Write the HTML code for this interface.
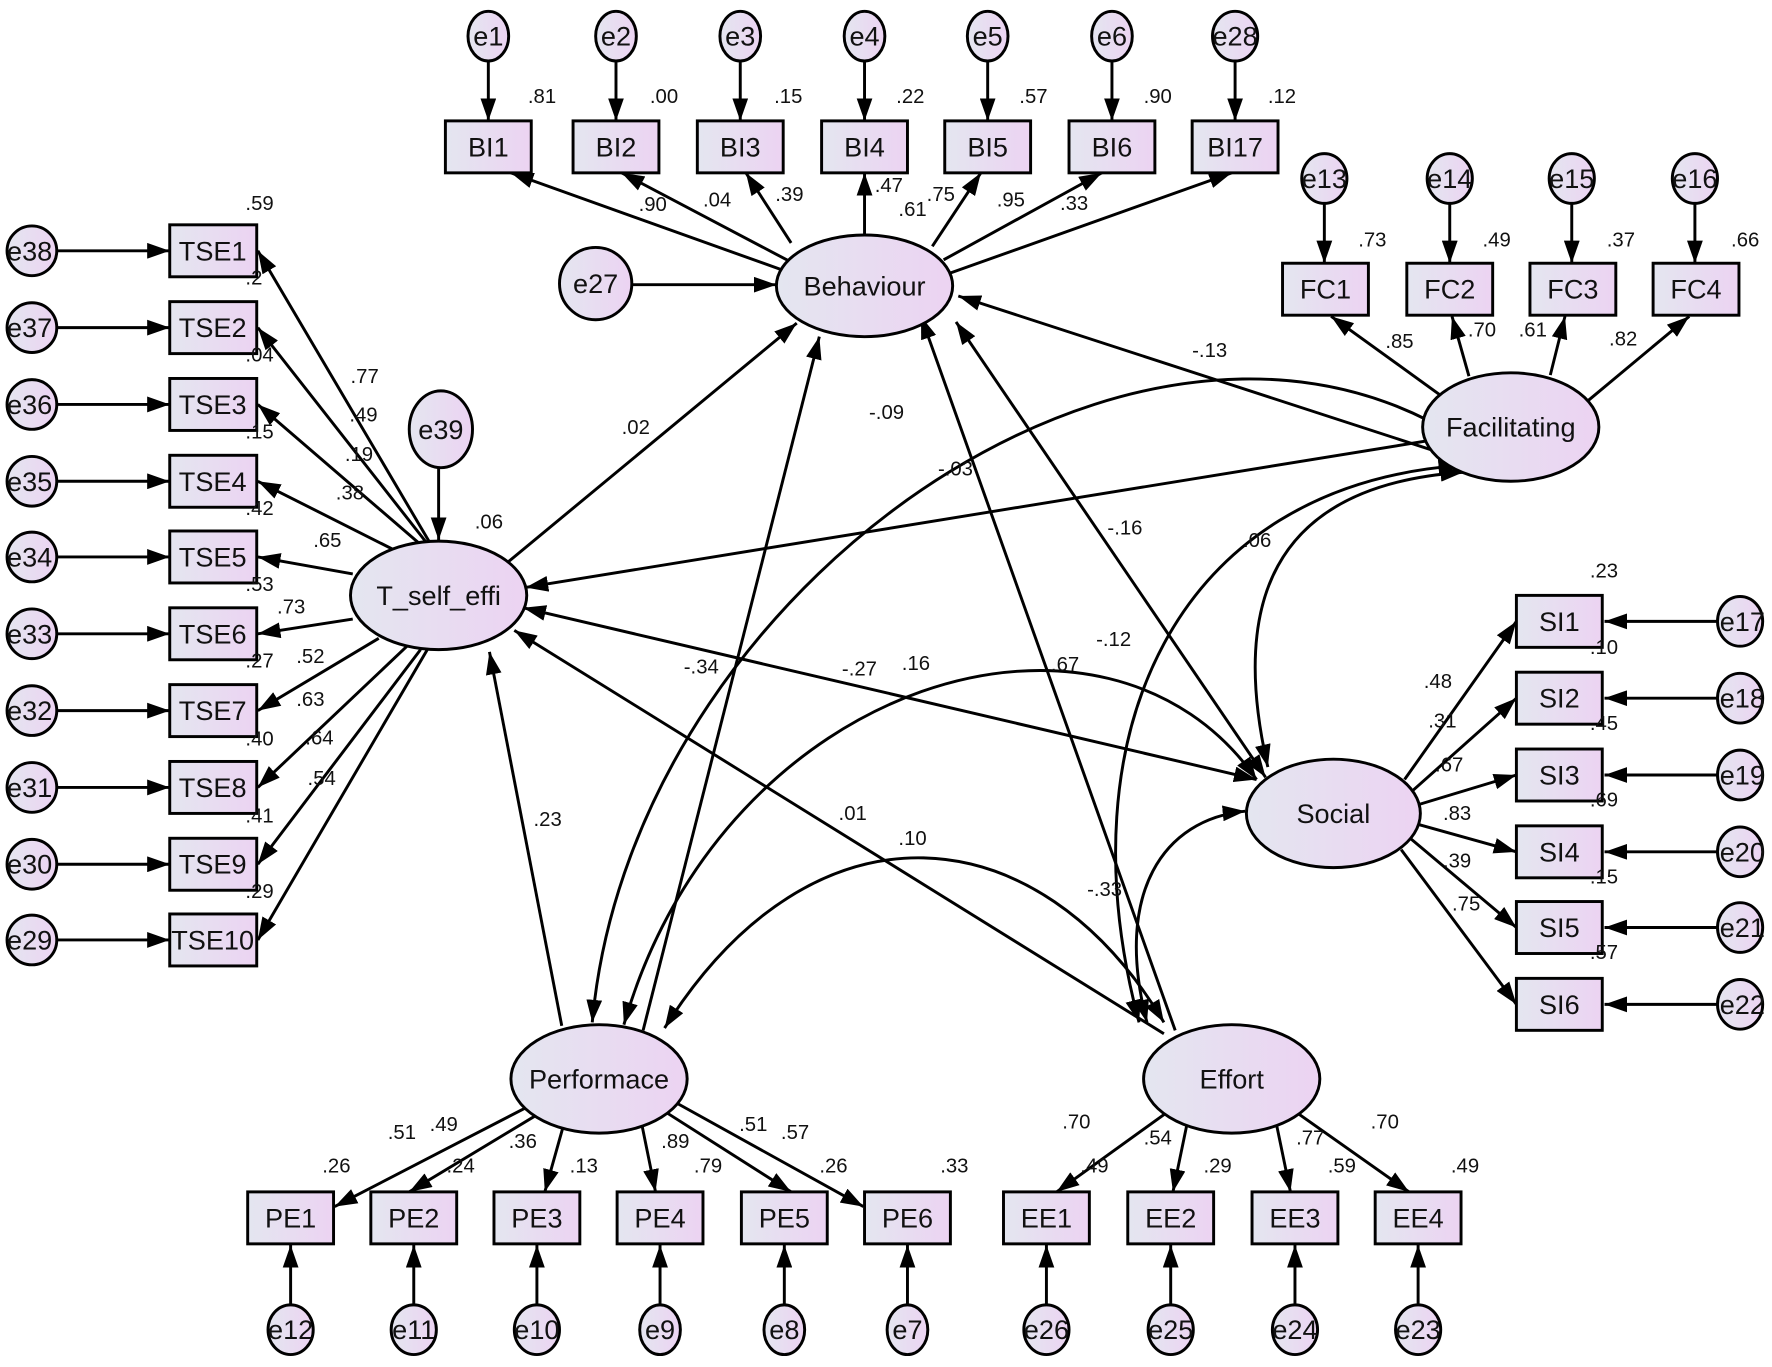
<!DOCTYPE html>
<html><head><meta charset="utf-8"><style>
html,body{margin:0;padding:0;background:#fff;}
svg{display:block;}
text{font-family:"Liberation Sans",Arial,sans-serif;fill:#111;}
.n{font-size:24px;text-anchor:middle;dominant-baseline:central;}
.l{font-size:18px;}
.ln{stroke:#000;stroke-width:2.6;fill:none;}
.bx{fill:url(#g);stroke:#000;stroke-width:2.6;}
</style></head><body>
<svg width="1772" height="1367" viewBox="0 0 1568 1210" xmlns="http://www.w3.org/2000/svg">
<defs>
<linearGradient id="g" x1="0" y1="0" x2="1" y2="0"><stop offset="0" stop-color="#e4e6f0"/><stop offset="1" stop-color="#ecd3f2"/></linearGradient>
<marker id="a" viewBox="0 0 20 14" refX="20" refY="7" markerWidth="20" markerHeight="14" markerUnits="userSpaceOnUse" orient="auto-start-reverse"><path d="M0,0 L20,7 L0,14 z" fill="#000"/></marker>
</defs>

<!-- Structural lines -->
<g class="ln">
<line x1="450" y1="497" x2="705" y2="286" marker-end="url(#a)"/>
<line x1="569" y1="912" x2="725" y2="298" marker-end="url(#a)"/>
<line x1="1040" y1="912" x2="815" y2="280" marker-end="url(#a)"/>
<line x1="848" y1="262" x2="1340" y2="422" marker-start="url(#a)" marker-end="url(#a)"/>
<line x1="1295" y1="385" x2="465" y2="520" marker-end="url(#a)"/>
<line x1="846" y1="285" x2="1120" y2="688" marker-start="url(#a)" marker-end="url(#a)"/>
<line x1="463" y1="538" x2="1112" y2="690" marker-start="url(#a)" marker-end="url(#a)"/>
<line x1="1030" y1="915" x2="455" y2="558" marker-end="url(#a)"/>
<line x1="497" y1="908" x2="433" y2="577" marker-end="url(#a)"/>
<path d="M524,905 C560,500 1060,170 1340,425" marker-start="url(#a)" marker-end="url(#a)"/>
<path d="M1122,679 C1090,540 1120,430 1295,418" marker-start="url(#a)" marker-end="url(#a)"/>
<path d="M552,907 C640,600 980,500 1112,690" marker-start="url(#a)" marker-end="url(#a)"/>
<path d="M1008,905 C940,650 1040,430 1293,412" marker-start="url(#a)" marker-end="url(#a)"/>
<path d="M1015,905 C985,790 1030,725 1102,718" marker-start="url(#a)" marker-end="url(#a)"/>
<path d="M588,910 C720,700 920,720 1030,905" marker-start="url(#a)" marker-end="url(#a)"/>
</g>

<!-- BI block -->
<g class="ln">
<line x1="432" y1="54" x2="432" y2="107" marker-end="url(#a)"/>
<line x1="545" y1="54" x2="545" y2="107" marker-end="url(#a)"/>
<line x1="655" y1="54" x2="655" y2="107" marker-end="url(#a)"/>
<line x1="765" y1="54" x2="765" y2="107" marker-end="url(#a)"/>
<line x1="874" y1="54" x2="874" y2="107" marker-end="url(#a)"/>
<line x1="984" y1="54" x2="984" y2="107" marker-end="url(#a)"/>
<line x1="1093" y1="54" x2="1093" y2="107" marker-end="url(#a)"/>
<line x1="695" y1="240" x2="452" y2="153" marker-end="url(#a)"/>
<line x1="700" y1="232" x2="550" y2="153" marker-end="url(#a)"/>
<line x1="700" y1="215" x2="660" y2="153" marker-end="url(#a)"/>
<line x1="765" y1="208" x2="765" y2="153" marker-end="url(#a)"/>
<line x1="825" y1="218" x2="868" y2="153" marker-end="url(#a)"/>
<line x1="835" y1="230" x2="975" y2="153" marker-end="url(#a)"/>
<line x1="840" y1="242" x2="1090" y2="153" marker-end="url(#a)"/>
<line x1="559" y1="252" x2="687" y2="252" marker-end="url(#a)"/>
</g>
<g>
<ellipse cx="432" cy="32" rx="18" ry="22" class="bx"/><text x="432" y="32" class="n">e1</text>
<ellipse cx="545" cy="32" rx="18" ry="22" class="bx"/><text x="545" y="32" class="n">e2</text>
<ellipse cx="655" cy="32" rx="18" ry="22" class="bx"/><text x="655" y="32" class="n">e3</text>
<ellipse cx="765" cy="32" rx="18" ry="22" class="bx"/><text x="765" y="32" class="n">e4</text>
<ellipse cx="874" cy="32" rx="18" ry="22" class="bx"/><text x="874" y="32" class="n">e5</text>
<ellipse cx="984" cy="32" rx="18" ry="22" class="bx"/><text x="984" y="32" class="n">e6</text>
<ellipse cx="1093" cy="32" rx="20" ry="22" class="bx"/><text x="1093" y="32" class="n">e28</text>
<rect x="394" y="107" width="76" height="46" class="bx"/><text x="432" y="130" class="n">BI1</text>
<rect x="507" y="107" width="76" height="46" class="bx"/><text x="545" y="130" class="n">BI2</text>
<rect x="617" y="107" width="76" height="46" class="bx"/><text x="655" y="130" class="n">BI3</text>
<rect x="727" y="107" width="76" height="46" class="bx"/><text x="765" y="130" class="n">BI4</text>
<rect x="836" y="107" width="76" height="46" class="bx"/><text x="874" y="130" class="n">BI5</text>
<rect x="946" y="107" width="76" height="46" class="bx"/><text x="984" y="130" class="n">BI6</text>
<rect x="1055" y="107" width="76" height="46" class="bx"/><text x="1093" y="130" class="n">BI17</text>
<ellipse cx="527" cy="251" rx="32" ry="32" class="bx"/><text x="527" y="251" class="n">e27</text>
<ellipse cx="765" cy="253" rx="78" ry="45" class="bx"/><text x="765" y="253" class="n">Behaviour</text>
</g>
<g class="l">
<text x="467" y="91">.81</text><text x="575" y="91">.00</text><text x="685" y="91">.15</text><text x="793" y="91">.22</text><text x="902" y="91">.57</text><text x="1012" y="91">.90</text><text x="1122" y="91">.12</text>
<text x="565" y="187">.90</text><text x="622" y="183">.04</text><text x="686" y="178">.39</text><text x="774" y="170">.47</text><text x="820" y="178">.75</text><text x="795" y="191">.61</text><text x="882" y="183">.95</text><text x="938" y="186">.33</text>
</g>

<!-- TSE block -->
<g class="ln">
<line x1="50" y1="222" x2="150" y2="222" marker-end="url(#a)"/>
<line x1="50" y1="290" x2="150" y2="290" marker-end="url(#a)"/>
<line x1="50" y1="358" x2="150" y2="358" marker-end="url(#a)"/>
<line x1="50" y1="426" x2="150" y2="426" marker-end="url(#a)"/>
<line x1="50" y1="493" x2="150" y2="493" marker-end="url(#a)"/>
<line x1="50" y1="561" x2="150" y2="561" marker-end="url(#a)"/>
<line x1="50" y1="629" x2="150" y2="629" marker-end="url(#a)"/>
<line x1="50" y1="697" x2="150" y2="697" marker-end="url(#a)"/>
<line x1="50" y1="765" x2="150" y2="765" marker-end="url(#a)"/>
<line x1="50" y1="832" x2="150" y2="832" marker-end="url(#a)"/>
<line x1="380" y1="480" x2="228" y2="222" marker-end="url(#a)"/>
<line x1="377" y1="480" x2="228" y2="290" marker-end="url(#a)"/>
<line x1="372" y1="482" x2="228" y2="358" marker-end="url(#a)"/>
<line x1="355" y1="490" x2="228" y2="426" marker-end="url(#a)"/>
<line x1="312" y1="508" x2="228" y2="493" marker-end="url(#a)"/>
<line x1="312" y1="548" x2="228" y2="561" marker-end="url(#a)"/>
<line x1="335" y1="565" x2="228" y2="629" marker-end="url(#a)"/>
<line x1="360" y1="572" x2="228" y2="697" marker-end="url(#a)"/>
<line x1="372" y1="575" x2="228" y2="765" marker-end="url(#a)"/>
<line x1="378" y1="575" x2="228" y2="832" marker-end="url(#a)"/>
<line x1="388" y1="414" x2="388" y2="478" marker-end="url(#a)"/>
</g>
<g>
<ellipse cx="28" cy="222" rx="22" ry="22" class="bx"/><text x="26" y="222" class="n">e38</text>
<ellipse cx="28" cy="290" rx="22" ry="22" class="bx"/><text x="26" y="290" class="n">e37</text>
<ellipse cx="28" cy="358" rx="22" ry="22" class="bx"/><text x="26" y="358" class="n">e36</text>
<ellipse cx="28" cy="426" rx="22" ry="22" class="bx"/><text x="26" y="426" class="n">e35</text>
<ellipse cx="28" cy="493" rx="22" ry="22" class="bx"/><text x="26" y="493" class="n">e34</text>
<ellipse cx="28" cy="561" rx="22" ry="22" class="bx"/><text x="26" y="561" class="n">e33</text>
<ellipse cx="28" cy="629" rx="22" ry="22" class="bx"/><text x="26" y="629" class="n">e32</text>
<ellipse cx="28" cy="697" rx="22" ry="22" class="bx"/><text x="26" y="697" class="n">e31</text>
<ellipse cx="28" cy="765" rx="22" ry="22" class="bx"/><text x="26" y="765" class="n">e30</text>
<ellipse cx="28" cy="832" rx="22" ry="22" class="bx"/><text x="26" y="832" class="n">e29</text>
<rect x="150" y="199" width="77" height="46" class="bx"/><text x="188" y="222" class="n">TSE1</text>
<rect x="150" y="267" width="77" height="46" class="bx"/><text x="188" y="290" class="n">TSE2</text>
<rect x="150" y="335" width="77" height="46" class="bx"/><text x="188" y="358" class="n">TSE3</text>
<rect x="150" y="403" width="77" height="46" class="bx"/><text x="188" y="426" class="n">TSE4</text>
<rect x="150" y="470" width="77" height="46" class="bx"/><text x="188" y="493" class="n">TSE5</text>
<rect x="150" y="538" width="77" height="46" class="bx"/><text x="188" y="561" class="n">TSE6</text>
<rect x="150" y="606" width="77" height="46" class="bx"/><text x="188" y="629" class="n">TSE7</text>
<rect x="150" y="674" width="77" height="46" class="bx"/><text x="188" y="697" class="n">TSE8</text>
<rect x="150" y="742" width="77" height="46" class="bx"/><text x="188" y="765" class="n">TSE9</text>
<rect x="150" y="809" width="77" height="46" class="bx"/><text x="188" y="832" class="n">TSE10</text>
<ellipse cx="390" cy="380" rx="28" ry="34" class="bx"/><text x="390" y="380" class="n">e39</text>
<ellipse cx="388" cy="527" rx="78" ry="48" class="bx"/><text x="388" y="527" class="n">T_self_effi</text>
</g>
<g class="l">
<text x="217" y="186">.59</text><text x="217" y="252">.2</text><text x="217" y="320">.04</text><text x="217" y="388">.15</text><text x="217" y="456">.42</text><text x="217" y="523">.53</text><text x="217" y="591">.27</text><text x="217" y="660">.40</text><text x="217" y="728">.41</text><text x="217" y="795">.29</text>
<text x="310" y="339">.77</text><text x="309" y="373">.49</text><text x="305" y="408">.19</text><text x="297" y="442">.38</text><text x="277" y="484">.65</text><text x="245" y="543">.73</text><text x="262" y="587">.52</text><text x="262" y="625">.63</text><text x="270" y="659">.64</text><text x="272" y="695">.54</text>
<text x="420" y="468">.06</text>
</g>

<!-- FC block -->
<g class="ln">
<line x1="1172" y1="180" x2="1172" y2="233" marker-end="url(#a)"/>
<line x1="1283" y1="180" x2="1283" y2="233" marker-end="url(#a)"/>
<line x1="1391" y1="180" x2="1391" y2="233" marker-end="url(#a)"/>
<line x1="1500" y1="180" x2="1500" y2="233" marker-end="url(#a)"/>
<line x1="1275" y1="350" x2="1178" y2="280" marker-end="url(#a)"/>
<line x1="1300" y1="333" x2="1285" y2="280" marker-end="url(#a)"/>
<line x1="1372" y1="332" x2="1385" y2="280" marker-end="url(#a)"/>
<line x1="1405" y1="355" x2="1495" y2="280" marker-end="url(#a)"/>
</g>
<g>
<ellipse cx="1172" cy="158" rx="20" ry="22" class="bx"/><text x="1172" y="158" class="n">e13</text>
<ellipse cx="1283" cy="158" rx="20" ry="22" class="bx"/><text x="1283" y="158" class="n">e14</text>
<ellipse cx="1391" cy="158" rx="20" ry="22" class="bx"/><text x="1391" y="158" class="n">e15</text>
<ellipse cx="1500" cy="158" rx="20" ry="22" class="bx"/><text x="1500" y="158" class="n">e16</text>
<rect x="1135" y="233" width="76" height="46" class="bx"/><text x="1173" y="256" class="n">FC1</text>
<rect x="1245" y="233" width="76" height="46" class="bx"/><text x="1283" y="256" class="n">FC2</text>
<rect x="1354" y="233" width="76" height="46" class="bx"/><text x="1392" y="256" class="n">FC3</text>
<rect x="1463" y="233" width="76" height="46" class="bx"/><text x="1501" y="256" class="n">FC4</text>
<ellipse cx="1337" cy="378" rx="78" ry="48" class="bx"/><text x="1337" y="378" class="n">Facilitating</text>
</g>
<g class="l">
<text x="1202" y="218">.73</text><text x="1312" y="218">.49</text><text x="1422" y="218">.37</text><text x="1532" y="218">.66</text>
<text x="1226" y="308">.85</text><text x="1299" y="298">.70</text><text x="1344" y="298">.61</text><text x="1424" y="306">.82</text>
</g>

<!-- SI block -->
<g class="ln">
<line x1="1520" y1="550" x2="1420" y2="550" marker-end="url(#a)"/>
<line x1="1520" y1="618" x2="1420" y2="618" marker-end="url(#a)"/>
<line x1="1520" y1="686" x2="1420" y2="686" marker-end="url(#a)"/>
<line x1="1520" y1="754" x2="1420" y2="754" marker-end="url(#a)"/>
<line x1="1520" y1="821" x2="1420" y2="821" marker-end="url(#a)"/>
<line x1="1520" y1="889" x2="1420" y2="889" marker-end="url(#a)"/>
<line x1="1243" y1="690" x2="1342" y2="550" marker-end="url(#a)"/>
<line x1="1250" y1="700" x2="1342" y2="618" marker-end="url(#a)"/>
<line x1="1256" y1="712" x2="1342" y2="686" marker-end="url(#a)"/>
<line x1="1256" y1="730" x2="1342" y2="754" marker-end="url(#a)"/>
<line x1="1248" y1="742" x2="1342" y2="821" marker-end="url(#a)"/>
<line x1="1240" y1="752" x2="1342" y2="889" marker-end="url(#a)"/>
</g>
<g>
<ellipse cx="1540" cy="550" rx="20" ry="22" class="bx"/><text x="1542" y="550" class="n">e17</text>
<ellipse cx="1540" cy="618" rx="20" ry="22" class="bx"/><text x="1542" y="618" class="n">e18</text>
<ellipse cx="1540" cy="686" rx="20" ry="22" class="bx"/><text x="1542" y="686" class="n">e19</text>
<ellipse cx="1540" cy="754" rx="20" ry="22" class="bx"/><text x="1542" y="754" class="n">e20</text>
<ellipse cx="1540" cy="821" rx="20" ry="22" class="bx"/><text x="1542" y="821" class="n">e21</text>
<ellipse cx="1540" cy="889" rx="20" ry="22" class="bx"/><text x="1542" y="889" class="n">e22</text>
<rect x="1342" y="527" width="76" height="46" class="bx"/><text x="1380" y="550" class="n">SI1</text>
<rect x="1342" y="595" width="76" height="46" class="bx"/><text x="1380" y="618" class="n">SI2</text>
<rect x="1342" y="663" width="76" height="46" class="bx"/><text x="1380" y="686" class="n">SI3</text>
<rect x="1342" y="731" width="76" height="46" class="bx"/><text x="1380" y="754" class="n">SI4</text>
<rect x="1342" y="798" width="76" height="46" class="bx"/><text x="1380" y="821" class="n">SI5</text>
<rect x="1342" y="866" width="76" height="46" class="bx"/><text x="1380" y="889" class="n">SI6</text>
<ellipse cx="1180" cy="720" rx="77" ry="48" class="bx"/><text x="1180" y="720" class="n">Social</text>
</g>
<g class="l">
<text x="1407" y="511">.23</text><text x="1407" y="579">.10</text><text x="1407" y="646">.45</text><text x="1407" y="714">.69</text><text x="1407" y="782">.15</text><text x="1407" y="849">.57</text>
<text x="1260" y="609">.48</text><text x="1264" y="644">.31</text><text x="1270" y="683">.67</text><text x="1277" y="726">.83</text><text x="1277" y="768">.39</text><text x="1285" y="806">.75</text>
</g>

<!-- PE block -->
<g class="ln">
<line x1="257" y1="1155" x2="257" y2="1102" marker-end="url(#a)"/>
<line x1="366" y1="1155" x2="366" y2="1102" marker-end="url(#a)"/>
<line x1="475" y1="1155" x2="475" y2="1102" marker-end="url(#a)"/>
<line x1="584" y1="1155" x2="584" y2="1102" marker-end="url(#a)"/>
<line x1="694" y1="1155" x2="694" y2="1102" marker-end="url(#a)"/>
<line x1="803" y1="1155" x2="803" y2="1102" marker-end="url(#a)"/>
<line x1="470" y1="978" x2="296" y2="1068" marker-end="url(#a)"/>
<line x1="478" y1="985" x2="362" y2="1055" marker-end="url(#a)"/>
<line x1="498" y1="998" x2="482" y2="1055" marker-end="url(#a)"/>
<line x1="568" y1="996" x2="580" y2="1055" marker-end="url(#a)"/>
<line x1="590" y1="985" x2="700" y2="1055" marker-end="url(#a)"/>
<line x1="598" y1="976" x2="764" y2="1068" marker-end="url(#a)"/>
</g>
<g>
<ellipse cx="257" cy="1177" rx="20" ry="22" class="bx"/><text x="257" y="1177" class="n">e12</text>
<ellipse cx="366" cy="1177" rx="20" ry="22" class="bx"/><text x="366" y="1177" class="n">e11</text>
<ellipse cx="475" cy="1177" rx="20" ry="22" class="bx"/><text x="475" y="1177" class="n">e10</text>
<ellipse cx="584" cy="1177" rx="18" ry="22" class="bx"/><text x="584" y="1177" class="n">e9</text>
<ellipse cx="694" cy="1177" rx="18" ry="22" class="bx"/><text x="694" y="1177" class="n">e8</text>
<ellipse cx="803" cy="1177" rx="18" ry="22" class="bx"/><text x="803" y="1177" class="n">e7</text>
<rect x="219" y="1055" width="76" height="46" class="bx"/><text x="257" y="1078" class="n">PE1</text>
<rect x="328" y="1055" width="76" height="46" class="bx"/><text x="366" y="1078" class="n">PE2</text>
<rect x="437" y="1055" width="76" height="46" class="bx"/><text x="475" y="1078" class="n">PE3</text>
<rect x="546" y="1055" width="76" height="46" class="bx"/><text x="584" y="1078" class="n">PE4</text>
<rect x="656" y="1055" width="76" height="46" class="bx"/><text x="694" y="1078" class="n">PE5</text>
<rect x="765" y="1055" width="76" height="46" class="bx"/><text x="803" y="1078" class="n">PE6</text>
<ellipse cx="530" cy="955" rx="78" ry="48" class="bx"/><text x="530" y="955" class="n">Performace</text>
</g>
<g class="l">
<text x="285" y="1038">.26</text><text x="395" y="1038">.24</text><text x="504" y="1038">.13</text><text x="614" y="1038">.79</text><text x="725" y="1038">.26</text><text x="832" y="1038">.33</text>
<text x="343" y="1008">.51</text><text x="380" y="1001">.49</text><text x="450" y="1016">.36</text><text x="585" y="1016">.89</text><text x="654" y="1001">.51</text><text x="691" y="1008">.57</text>
</g>

<!-- EE block -->
<g class="ln">
<line x1="926" y1="1155" x2="926" y2="1102" marker-end="url(#a)"/>
<line x1="1036" y1="1155" x2="1036" y2="1102" marker-end="url(#a)"/>
<line x1="1146" y1="1155" x2="1146" y2="1102" marker-end="url(#a)"/>
<line x1="1255" y1="1155" x2="1255" y2="1102" marker-end="url(#a)"/>
<line x1="1035" y1="983" x2="935" y2="1055" marker-end="url(#a)"/>
<line x1="1050" y1="997" x2="1038" y2="1055" marker-end="url(#a)"/>
<line x1="1130" y1="997" x2="1142" y2="1055" marker-end="url(#a)"/>
<line x1="1145" y1="983" x2="1247" y2="1055" marker-end="url(#a)"/>
</g>
<g>
<ellipse cx="926" cy="1177" rx="20" ry="22" class="bx"/><text x="926" y="1177" class="n">e26</text>
<ellipse cx="1036" cy="1177" rx="20" ry="22" class="bx"/><text x="1036" y="1177" class="n">e25</text>
<ellipse cx="1146" cy="1177" rx="20" ry="22" class="bx"/><text x="1146" y="1177" class="n">e24</text>
<ellipse cx="1255" cy="1177" rx="20" ry="22" class="bx"/><text x="1255" y="1177" class="n">e23</text>
<rect x="888" y="1055" width="76" height="46" class="bx"/><text x="926" y="1078" class="n">EE1</text>
<rect x="998" y="1055" width="76" height="46" class="bx"/><text x="1036" y="1078" class="n">EE2</text>
<rect x="1108" y="1055" width="76" height="46" class="bx"/><text x="1146" y="1078" class="n">EE3</text>
<rect x="1217" y="1055" width="76" height="46" class="bx"/><text x="1255" y="1078" class="n">EE4</text>
<ellipse cx="1090" cy="955" rx="78" ry="48" class="bx"/><text x="1090" y="955" class="n">Effort</text>
</g>
<g class="l">
<text x="956" y="1038">.49</text><text x="1065" y="1038">.29</text><text x="1175" y="1038">.59</text><text x="1284" y="1038">.49</text>
<text x="940" y="999">.70</text><text x="1012" y="1013">.54</text><text x="1147" y="1013">.77</text><text x="1213" y="999">.70</text>
</g>

<!-- Structural labels -->
<g class="l">
<text x="550" y="384">.02</text>
<text x="769" y="371">-.09</text>
<text x="1055" y="316">-.13</text>
<text x="830" y="421">-.03</text>
<text x="980" y="473">-.16</text>
<text x="1100" y="484">.06</text>
<text x="970" y="572">-.12</text>
<text x="605" y="596">-.34</text>
<text x="745" y="598">-.27</text>
<text x="798" y="593">.16</text>
<text x="930" y="594">.67</text>
<text x="472" y="731">.23</text>
<text x="742" y="726">.01</text>
<text x="795" y="748">.10</text>
<text x="962" y="793">-.33</text>
</g>
</svg>
</body></html>
